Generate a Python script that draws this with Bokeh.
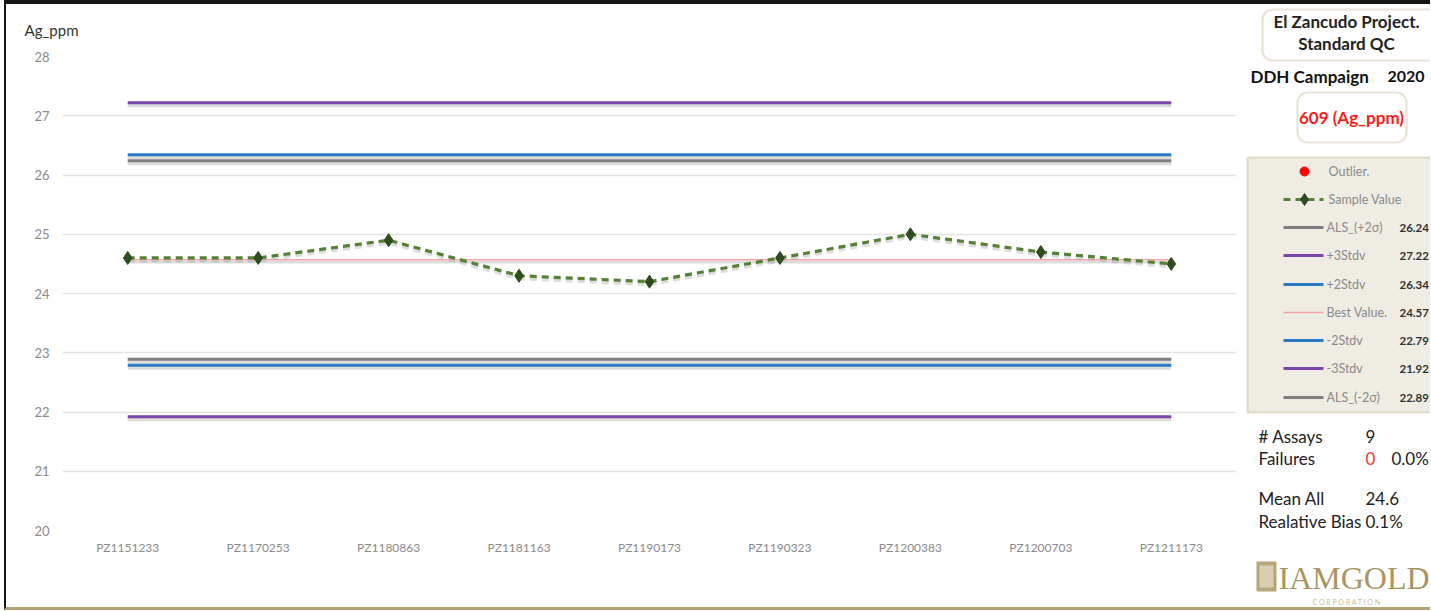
from bokeh.plotting import figure
from bokeh.models import (FactorRange, Range1d, FixedTicker, Label, BoxAnnotation, ColumnDataSource)
from bokeh.layouts import row
from bokeh.embed import file_html
from bokeh.resources import INLINE

# ---------------- data ----------------
samples = ["PZ1151233", "PZ1170253", "PZ1180863", "PZ1181163", "PZ1190173",
           "PZ1190323", "PZ1200383", "PZ1200703", "PZ1211173"]
sample_values = [24.6, 24.6, 24.9, 24.3, 24.2, 24.6, 25.0, 24.7, 24.5]

limit_names = ["ALS_(+2σ)", "+3Stdv", "+2Stdv", "Best Value.", "-2Stdv", "-3Stdv", "ALS_(-2σ)"]
limit_values = [26.24, 27.22, 26.34, 24.57, 22.79, 21.92, 22.89]
limit_colors = ["#7f7f7f", "#7a44ad", "#2b7bc4", "#f4a3a3", "#2b7bc4", "#7a44ad", "#7f7f7f"]
limit_widths = [3, 3, 3, 1.6, 3, 3, 3]

y_ticks = [20, 21, 22, 23, 24, 25, 26, 27, 28]

standard_id = "609 (Ag_ppm)"
n_assays = 9
n_failures = 0
mean_all = 24.6
rel_bias = "0.1%"

FONT = "Lato"
TAN = "#b3a273"

H = 603
# ---------------- main chart ----------------
p = figure(width=1234, height=H, x_range=FactorRange(*samples),
           y_range=Range1d(20, 28), output_backend="svg", toolbar_location=None,
           min_border_left=56, min_border_right=4, min_border_top=52, min_border_bottom=77)
p.frame_align = False
p.outline_line_color = None
p.background_fill_color = "white"
p.border_fill_color = "white"

p.yaxis.ticker = FixedTicker(ticks=y_ticks)
for ax in (p.xaxis[0], p.yaxis[0]):
    ax.axis_line_color = None
    ax.major_tick_line_color = None
    ax.minor_tick_line_color = None
    ax.major_tick_out = 0
    ax.major_tick_in = 0
    ax.major_label_text_color = "#8a8a8a"
    ax.major_label_text_font = FONT
p.yaxis.major_label_text_font_size = "13px"
p.yaxis.major_label_standoff = 13
p.xaxis.major_label_text_font_size = "12px"
p.xaxis.major_label_standoff = 9
p.xgrid.grid_line_color = None
p.ygrid.grid_line_color = "#e4e4e4"
p.ygrid.grid_line_width = 1.5

p.title.text = "Ag_ppm"
p.title.align = "left"
p.title.vertical_align = "top"
p.title.offset = -38
p.title.standoff = 32
p.title.text_font = FONT
p.title.text_font_size = "15px"
p.title.text_font_style = "normal"
p.title.text_color = "#333333"

px_per_unit = 474 / 8.0
shadow = 2.5 / px_per_unit

# limit lines with soft shadows
for v, c, w in zip(limit_values, limit_colors, limit_widths):
    p.segment(x0=[samples[0]], x1=[samples[-1]], y0=[v - shadow], y1=[v - shadow],
              line_color="#9a9a9a", line_alpha=0.35, line_width=w + 1)
for v, c, w in zip(limit_values, limit_colors, limit_widths):
    p.segment(x0=[samples[0]], x1=[samples[-1]], y0=[v], y1=[v],
              line_color=c, line_width=w)

src = ColumnDataSource(dict(x=samples, y=sample_values,
                            ys=[v - shadow for v in sample_values]))
p.line("x", "ys", source=src, line_color="#9a9a9a", line_alpha=0.35, line_width=4,
       line_dash="7 5")
p.line("x", "y", source=src, line_color="#548235", line_width=3.2, line_dash="7 5")
p.scatter("x", "y", source=src, marker="diamond", size=13, fill_color="#2e4d1f",
          line_color="#2e4d1f")

# ---------------- side panel ----------------
W2 = 190
q = figure(width=W2, height=H, x_range=Range1d(1240, 1240 + W2), y_range=Range1d(0, H),
           output_backend="svg", toolbar_location=None, min_border=0)
q.frame_align = False
q.axis.visible = False
q.grid.grid_line_color = None
q.outline_line_color = None
q.background_fill_color = "white"
q.border_fill_color = "white"

TOP = 4


def Y(r):
    # reference-pixel row -> panel coordinate
    return TOP + H - r


def box(l, r, t, b, fill="white", radius=10):
    q.add_layout(BoxAnnotation(left=l, right=r, top=Y(t), bottom=Y(b), fill_color=fill,
                               fill_alpha=1, line_color=TAN, line_width=2.2,
                               border_radius=radius, level="underlay"))


def txt(x, yref, s, size="13px", color="#222222", style="normal", align="left", font=FONT):
    q.add_layout(Label(x=x, y=Y(yref), text=s, text_font=font, text_font_size=size,
                       text_color=color, text_font_style=style, text_align=align,
                       text_baseline="middle"))


box(1262, 1450, 9, 60)
txt(1346, 21, "El Zancudo Project.", size="17px", style="bold", align="center")
txt(1346, 43, "Standard QC", size="17px", style="bold", align="center")
txt(1250, 76, "DDH Campaign", size="17px", style="bold", color="#111111")
txt(1387, 76, "2020", size="16px", style="bold", color="#111111")
box(1297, 1406, 92, 142)
txt(1351, 117, standard_id, size="17px", style="bold", align="center", color="#ff1a1a")

# legend panel
box(1247, 1460, 157, 412, fill="#efece3", radius=0)
row_y = [171, 199, 227, 255, 284, 312, 340, 368, 397]
q.scatter([1304], [Y(row_y[0])], marker="circle", size=9, fill_color="#ff0000", line_color="#ff0000")
txt(1328, row_y[0], "Outlier.", size="12.5px", color="#8a8a8a")
q.segment(x0=[1283], x1=[1323], y0=[Y(row_y[1])], y1=[Y(row_y[1])], line_color="#548235",
          line_width=3, line_dash="7 5")
q.scatter([1304], [Y(row_y[1])], marker="diamond", size=12, fill_color="#2e4d1f", line_color="#2e4d1f")
txt(1328, row_y[1], "Sample Value", size="12.5px", color="#8a8a8a")
for i, (nm, v, c, w) in enumerate(zip(limit_names, limit_values, limit_colors, limit_widths)):
    yy = row_y[i + 2]
    q.segment(x0=[1283], x1=[1323], y0=[Y(yy)], y1=[Y(yy)], line_color=c, line_width=w)
    txt(1326, yy, nm, size="12.5px", color="#8a8a8a")
    txt(1399, yy, f"{v:.2f}", size="11.5px", color="#333333", style="bold")

# stats
txt(1258, 436, "# Assays", size="17px")
txt(1365, 436, str(n_assays), size="17px")
txt(1258, 458, "Failures", size="17px")
txt(1365, 458, str(n_failures), size="17px", color="#ff3030")
txt(1391, 458, f"{100.0 * n_failures / n_assays:.1f}%", size="17px")
txt(1258, 498, "Mean All", size="17px")
txt(1365, 498, f"{mean_all:.1f}", size="17px")
txt(1258, 521, "Realative Bias", size="17px")
txt(1365, 521, rel_bias, size="17px")

# logo
q.add_layout(BoxAnnotation(left=1256, right=1276, top=Y(561), bottom=Y(591),
                           fill_color="#b7a67a", fill_alpha=1, line_color=None))
q.add_layout(BoxAnnotation(left=1259, right=1273, top=Y(565), bottom=Y(587),
                           fill_color="#d9cfb2", fill_alpha=1, line_color=None))
txt(1278, 577, "IAMGOLD", size="32px", color="#a99563", font="Liberation Serif")
txt(1312, 601, "C O R P O R A T I O N", size="7px", color="#c9bc98")

layout = row(p, q, spacing=0,
             styles={"border-top": "4px solid #151515", "border-left": "2px solid #151515",
                     "border-bottom": "3px solid " + TAN, "margin-left": "4px"})
open("out.html", "w").write(file_html(layout, INLINE))
